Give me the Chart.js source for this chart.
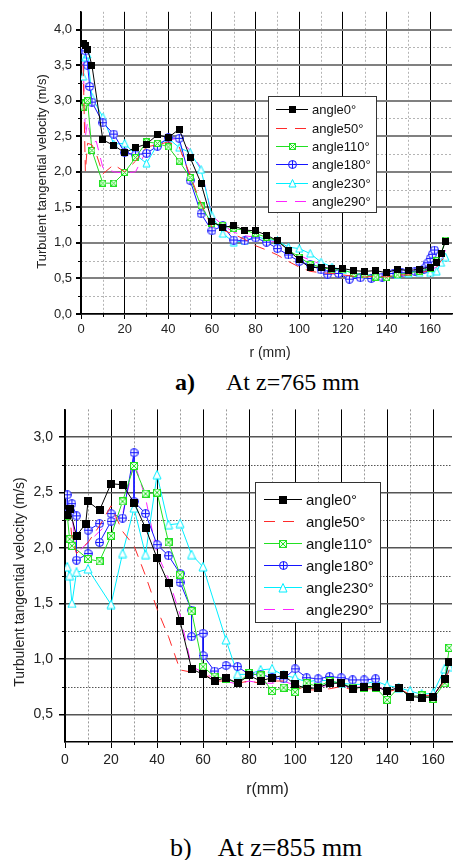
<!DOCTYPE html>
<html>
<head>
<meta charset="utf-8">
<script src="https://cdn.jsdelivr.net/npm/chart.js@4.4.1/dist/chart.umd.min.js"></script>
<style>
  body { margin: 0; width: 457px; height: 860px; background: #fff; position: relative; overflow: hidden; }
  canvas { position: absolute; left: 0; }
  .cap { position: absolute; font-family: 'Liberation Serif', 'Times New Roman', serif; color: #000; white-space: nowrap; }
</style>
</head>
<body>
<canvas id="chartA" width="457" height="365" style="top:0"></canvas>
<div class="cap" style="left:175px;top:369px;font-size:24px;line-height:26px"><b>a)</b><span style="margin-left:31px">At z=765 mm</span></div>
<canvas id="chartB" width="457" height="410" style="top:395px"></canvas>
<div class="cap" style="left:170px;top:834px;font-size:26px;line-height:28px">b)<span style="margin-left:26px">At z=855 mm</span></div>
<script>
const seriesNames = ['angle0°', 'angle50°', 'angle110°', 'angle180°', 'angle230°', 'angle290°'];

// z = 765 mm
const rA = [1, 2, 3, 5, 7, 10, 15, 20, 25, 30, 35, 40, 45, 50, 55, 60, 65, 70, 75, 80, 85, 90, 95, 100,
  105, 110, 115, 120, 125, 130, 135, 140, 145, 150, 155, 160, 163, 165, 167];
const angle0A = [3.80, 3.78, 3.72, 3.50, null, 2.45, 2.37, 2.27, 2.34, 2.39, 2.52, 2.48, 2.60, 2.20, 1.84, 1.30,
  1.22, 1.24, 1.18, 1.17, 1.11, 1.03, 0.90, 0.76, 0.65, 0.66, 0.64, 0.64, 0.61, 0.60, 0.61, 0.58, 0.63, 0.61,
  0.63, 0.66, 0.72, 0.85, 1.02];
const angle50A = [3.50, 2.00, 2.40, 2.38, 2.25, 1.97, 2.10, 2.00, 2.15, 2.35, 2.38, 2.42, 2.35, 1.95, 1.55, 1.22,
  1.18, 1.12, 1.05, 0.96, 0.90, 0.83, 0.74, 0.66, 0.60, 0.58, 0.57, 0.55, 0.53, 0.52, 0.53, 0.52, 0.55, 0.55,
  0.57, 0.62, 0.66, 0.75, 0.80];
const angle110A = [2.91, 2.97, 3.00, 2.30, null, 1.84, 1.84, 1.99, 2.20, 2.42, 2.40, 2.35, 2.15, 1.92, 1.52, 1.27,
  1.25, 1.20, 1.18, 1.13, 1.08, 1.03, 0.90, 0.80, 0.70, 0.66, 0.62, 0.62, 0.57, 0.55, 0.52, 0.51, 0.55, 0.58,
  0.60, 0.64, 0.75, 0.85, 1.04];
const rA180 = [1, 2, 3, 4, 5, 10, 15, 20, 25, 30, 35, 40, 45, 50, 55, 60, 65, 70, 75, 80, 85, 90, 95, 100, 105,
  110, 113, 118, 123, 128, 133, 138, 143, 147, 153, 157, 158, 159, 160, 161, 162];
const angle180A = [3.72, 3.70, 3.50, 3.20, 2.98, 2.69, 2.53, 2.27, 2.24, 2.26, 2.36, 2.48, 2.47, 1.88, 1.41, 1.17,
  1.24, 1.04, 1.03, 1.07, 1.01, 0.92, 0.83, 0.74, 0.69, 0.62, 0.56, 0.57, 0.49, 0.51, 0.50, 0.52, 0.57, 0.58,
  0.60, 0.63, 0.66, 0.72, 0.78, 0.84, 0.90];
const angle230A = [3.34, 3.61, 3.65, 3.05, null, 2.77, 2.39, 2.40, 2.24, 2.12, 2.38, 2.47, 2.34, 2.27, 2.03, 1.38,
  1.13, 1.01, 1.03, 1.09, 1.05, 1.03, 0.94, 0.92, 0.85, 0.73, 0.66, 0.62, 0.57, 0.55, 0.55, 0.55, 0.55, 0.57,
  0.58, 0.58, 0.60, 0.72, 0.80];
const angle290A = [3.55, 2.50, 2.70, 2.40, 2.43, 2.06, 2.00, 1.98, 2.00, 2.30, 2.40, 2.45, 2.47, 2.30, 2.05, 1.38,
  1.25, 1.15, 1.10, 1.08, 1.05, 1.00, 0.92, 0.82, 0.76, 0.70, 0.65, 0.60, 0.56, 0.55, 0.55, 0.55, 0.56, 0.58,
  0.60, 0.62, 0.66, 0.75, 0.90];

// z = 855 mm
const rB = [1, 2, 3, 5, 9, 10, 15, 20, 25, 30, 35, 40, 45, 50, 55, 60, 65, 70, 75, 80, 85, 90, 95, 100, 105,
  110, 115, 120, 125, 130, 135, 140, 145, 150, 155, 160, 165, 167];
const angle0B = [2.30, 2.35, null, 2.11, 2.22, 2.42, 2.34, 2.58, 2.57, 2.41, 2.18, 1.91, 1.68, 1.34, 0.91, 0.86,
  0.80, 0.83, 0.78, 0.85, 0.80, 0.83, 0.85, 0.77, 0.73, 0.74, 0.78, 0.78, 0.73, 0.75, 0.75, 0.71, 0.74, 0.66,
  0.65, 0.66, 0.82, 0.97];
const angle50B = [2.35, 2.30, 2.10, 1.95, null, 2.05, 2.20, 2.38, 2.15, 2.02, 1.75, 1.45, 1.20, 0.90, 0.88, 0.87,
  0.80, 0.80, 0.78, 0.80, 0.78, 0.80, 0.80, 0.75, 0.72, 0.72, 0.73, 0.75, 0.72, 0.73, 0.73, 0.70, 0.73, 0.68,
  0.67, 0.67, 0.80, 0.90];
const angle110B = [2.29, 2.08, 2.02, null, null, 1.90, 1.88, 2.11, 2.42, 2.74, 2.49, 2.50, 2.05, 1.76, 1.43, 0.93,
  0.84, 0.82, 0.78, 0.87, 0.85, 0.71, 0.74, 0.70, 0.78, 0.75, 0.80, 0.78, 0.74, 0.74, 0.74, 0.63, 0.74, 0.66,
  0.67, 0.64, 0.78, 1.10];
const rB180 = [1, 1, 3, 5, 5, 10, 10, 15, 15, 20, 20, 25, 30, 30, 35, 40, 45, 50, 50, 55, 55, 60, 60, 65, 70,
  75, 80, 85, 90, 95, 100, 105, 110, 115, 120, 125, 130, 135];
const angle180B = [2.48, 2.31, 2.40, 2.29, 1.89, 1.95, 2.16, 2.22, 2.05, 2.24, 2.31, 2.27, 2.86, 2.42, 2.31, 2.03,
  1.93, 1.77, 1.69, 1.44, 1.20, 1.23, 1.03, 0.89, 0.94, 0.93, 0.86, 0.86, 0.83, 0.82, 0.91, 0.83, 0.82, 0.84,
  0.83, 0.81, 0.81, 0.82];
const angle230B = [1.83, 1.75, 1.50, 1.78, null, 1.81, null, 1.49, 1.95, 2.36, 1.94, 2.66, 2.21, 2.22, 1.94, 1.83,
  null, 1.17, 0.86, 0.86, 0.90, 0.91, 0.85, 0.83, 0.79, 0.81, 0.80, 0.78, 0.77, 0.77, 0.80, 0.76, 0.74, 0.71,
  0.68, 0.69, 0.91, 0.93];
const angle290B = [2.40, 2.35, 2.30, 1.95, null, 2.05, 2.15, 2.25, 2.30, 2.78, 2.45, 1.95, 1.72, 1.40, 0.93, 0.88,
  0.82, 0.80, 0.77, 0.80, 0.78, 0.78, 0.80, 0.76, 0.74, 0.75, 0.76, 0.76, 0.74, 0.75, 0.75, 0.72, 0.74, 0.67,
  0.66, 0.67, 0.80, 0.95];

const xTicks = [0, 20, 40, 60, 80, 100, 120, 140, 160];
const yTicksA = [0, 0.5, 1.0, 1.5, 2.0, 2.5, 3.0, 3.5, 4.0];
const yTicksB = [0.5, 1.0, 1.5, 2.0, 2.5, 3.0];

const FONT = "'Liberation Sans', Arial, sans-serif";
const Y_TITLE = 'Turbulent tangential velocity (m/s)';

// small canvases used as point symbols (Chart.js accepts a canvas as pointStyle)
function marker(kind, color, size) {
  const c = document.createElement('canvas');
  c.width = size; c.height = size;
  const g = c.getContext('2d');
  const s = size - 1, h = size / 2;
  g.strokeStyle = color; g.lineWidth = 1;
  if (kind === 'square') {
    g.fillStyle = color;
    g.fillRect(0, 0, size, size);
  } else if (kind === 'xsquare') {
    g.fillStyle = '#eaffea';
    g.fillRect(0, 0, size, size);
    g.strokeRect(0.5, 0.5, s, s);
    g.beginPath();
    g.moveTo(1, 1); g.lineTo(s, s);
    g.moveTo(s, 1); g.lineTo(1, s);
    g.stroke();
  } else if (kind === 'oplus') {
    g.fillStyle = '#eef0ff';
    g.beginPath(); g.arc(h, h, h - 0.5, 0, Math.PI * 2); g.fill(); g.stroke();
    g.beginPath();
    g.moveTo(h, 0.5); g.lineTo(h, s + 0.5);
    g.moveTo(0.5, h); g.lineTo(s + 0.5, h);
    g.stroke();
  } else if (kind === 'triangle') {
    g.fillStyle = '#fff';
    g.beginPath(); g.moveTo(h, 0.5); g.lineTo(s, s); g.lineTo(1, s); g.closePath();
    g.fill(); g.stroke();
  }
  return c;
}

const styles = [
  { color: '#000000', kind: 'square' },
  { color: '#ff2a2a', dash: [11, 8] },
  { color: '#22e022', kind: 'xsquare' },
  { color: '#1414ff', kind: 'oplus' },
  { color: '#00eeff', kind: 'triangle' },
  { color: '#ff22ff', dash: [11, 8] }
];

function points(xs, ys) {
  return xs.map((x, i) => ({ x: x, y: ys[i] })).filter(p => p.y !== null);
}

function datasets(list, sizes) {
  return list.map(([xs, ys], i) => {
    const st = styles[i];
    const sym = st.kind ? marker(st.kind, st.color, sizes[st.kind]) : false;
    return {
      label: seriesNames[i],
      data: points(xs, ys),
      borderColor: st.color,
      backgroundColor: st.color,
      borderWidth: 1,
      borderDash: st.dash || [],
      pointStyle: sym,
      pointRadius: sym ? 4 : 0,
      tension: 0,
      spanGaps: true
    };
  });
}

// dotted lines halfway between the labelled ticks, plus short minor tick marks
const minorGrid = {
  id: 'minorGrid',
  beforeDraw(chart, args, o) {
    const { ctx, chartArea: a, scales: { x, y } } = chart;
    ctx.save();
    ctx.lineWidth = 1;
    ctx.strokeStyle = o.colorX; ctx.setLineDash(o.dashX);
    o.xs.forEach(v => {
      const px = Math.round(x.getPixelForValue(v)) + 0.5;
      ctx.beginPath(); ctx.moveTo(px, a.top); ctx.lineTo(px, a.bottom); ctx.stroke();
    });
    ctx.strokeStyle = o.colorY; ctx.setLineDash(o.dashY);
    o.ys.forEach(v => {
      const py = Math.round(y.getPixelForValue(v)) + 0.5;
      ctx.beginPath(); ctx.moveTo(a.left, py); ctx.lineTo(a.right, py); ctx.stroke();
    });
    ctx.restore();
  },
  afterDraw(chart, args, o) {
    const { ctx, chartArea: a, scales: { x, y } } = chart;
    ctx.save();
    ctx.strokeStyle = '#000'; ctx.lineWidth = 1;
    o.xs.forEach(v => {
      const px = Math.round(x.getPixelForValue(v)) + 0.5;
      ctx.beginPath(); ctx.moveTo(px, a.bottom); ctx.lineTo(px, a.bottom + 3); ctx.stroke();
    });
    o.ys.forEach(v => {
      const py = Math.round(y.getPixelForValue(v)) + 0.5;
      ctx.beginPath(); ctx.moveTo(a.left - 3, py); ctx.lineTo(a.left, py); ctx.stroke();
    });
    ctx.restore();
  }
};

// axis titles placed at fixed spots beside the plot
const axisTitles = {
  id: 'axisTitles',
  afterDraw(chart, args, o) {
    const ctx = chart.ctx;
    ctx.save();
    ctx.fillStyle = '#222';
    ctx.textAlign = 'center';
    ctx.textBaseline = 'middle';
    o.items.forEach(t => {
      ctx.save();
      ctx.translate(t.x, t.y);
      if (t.rotate) ctx.rotate(-Math.PI / 2);
      ctx.font = t.size + 'px ' + FONT;
      ctx.fillText(t.text, 0, 0);
      ctx.restore();
    });
    ctx.restore();
  }
};

// framed legend sitting inside the plot
const boxLegend = {
  id: 'boxLegend',
  afterDraw(chart, args, o) {
    const ctx = chart.ctx;
    ctx.save();
    ctx.fillStyle = '#fff';
    ctx.fillRect(o.left, o.top, o.width, o.height);
    ctx.strokeStyle = '#333'; ctx.lineWidth = 1;
    ctx.strokeRect(o.left + 0.5, o.top + 0.5, o.width, o.height);
    ctx.font = o.font;
    ctx.textBaseline = 'middle';
    chart.data.datasets.forEach((ds, i) => {
      const y = Math.round(o.firstRow + i * o.rowGap) + 0.5;
      ctx.strokeStyle = ds.borderColor;
      ctx.setLineDash(ds.borderDash);
      ctx.beginPath(); ctx.moveTo(o.x0, y); ctx.lineTo(o.x1, y); ctx.stroke();
      ctx.setLineDash([]);
      const sym = ds.pointStyle;
      if (sym) {
        ctx.drawImage(sym, Math.round((o.x0 + o.x1) / 2 - sym.width / 2), Math.round(y - sym.height / 2));
      }
      ctx.fillStyle = '#111';
      ctx.fillText(ds.label, o.textX, y + 1);
    });
    ctx.restore();
  }
};

const comma = v => v.toFixed(1).replace('.', ',');

function makeChart(id, d) {
  return new Chart(document.getElementById(id), {
    type: 'line',
    data: { datasets: d.sets },
    plugins: [minorGrid, axisTitles, boxLegend],
    options: {
      responsive: false,
      animation: false,
      devicePixelRatio: 1,
      layout: { padding: { top: d.top, right: 0, bottom: 0, left: 0 } },
      plugins: {
        legend: { display: false },
        tooltip: { enabled: false },
        minorGrid: d.minor,
        axisTitles: { items: d.titles },
        boxLegend: d.legend
      },
      scales: {
        x: {
          type: 'linear', min: 0, max: d.xMax,
          afterBuildTicks: s => { s.ticks = xTicks.map(v => ({ value: v })); },
          afterFit: s => { s.height = d.xHeight; },
          ticks: { font: { family: FONT, size: d.tickSize }, color: '#222', padding: d.xPad, maxRotation: 0, autoSkip: false },
          grid: { color: '#000', lineWidth: 1, tickLength: d.tickLen, tickColor: '#000' },
          border: { color: '#000', width: 1.5 }
        },
        y: {
          type: 'linear', min: d.yMin, max: d.yMax,
          afterBuildTicks: s => { s.ticks = d.yTicks.map(v => ({ value: v })); },
          afterFit: s => { s.width = d.yWidth; },
          ticks: { font: { family: FONT, size: d.tickSize }, color: '#222', padding: d.yPad, callback: comma },
          grid: { color: d.yGrid, lineWidth: d.yGridWidth, tickLength: d.tickLen, tickColor: '#000' },
          border: { color: '#000', width: 1.5 }
        }
      }
    }
  });
}

makeChart('chartA', {
  sets: datasets([[rA, angle0A], [rA, angle50A], [rA, angle110A], [rA180, angle180A], [rA, angle230A], [rA, angle290A]],
    { square: 7, xsquare: 7, oplus: 9, triangle: 9 }),
  top: 10, xMax: 170, yMin: 0, yMax: 4.25, yTicks: yTicksA,
  xHeight: 51, yWidth: 81, tickSize: 13, tickLen: 5, xPad: 3, yPad: 4,
  yGrid: '#808080', yGridWidth: 2,
  titles: [
    { text: 'r (mm)', x: 270, y: 353, size: 14 },
    { text: Y_TITLE, x: 42, y: 171.5, size: 13, rotate: true }
  ],
  minor: {
    xs: [10, 30, 50, 70, 90, 110, 130, 150],
    ys: [0.25, 0.75, 1.25, 1.75, 2.25, 2.75, 3.25, 3.75],
    colorX: '#b4b4b4', dashX: [2, 2], colorY: '#b4b4b4', dashY: [2, 2]
  },
  legend: { left: 268, top: 96, width: 108, height: 116, firstRow: 109.3, rowGap: 18.3, x0: 276, x1: 308, textX: 312, font: '13px ' + FONT }
});

makeChart('chartB', {
  sets: datasets([[rB, angle0B], [rB, angle50B], [rB, angle110B], [rB180, angle180B], [rB, angle230B], [rB, angle290B]],
    { square: 8, xsquare: 8, oplus: 9, triangle: 10 }),
  top: 11, xMax: 168.2, yMin: 0.25, yMax: 3.25, yTicks: yTicksB,
  xHeight: 63, yWidth: 65, tickSize: 14, tickLen: 6, xPad: 4, yPad: 6,
  yGrid: '#555', yGridWidth: 1.5,
  titles: [
    { text: 'r(mm)', x: 267.5, y: 395, size: 16 },
    { text: Y_TITLE, x: 20, y: 187, size: 14, rotate: true }
  ],
  minor: {
    xs: [10, 30, 50, 70, 90, 110, 130, 150],
    ys: [0.75, 1.25, 1.75, 2.25, 2.75],
    colorX: '#999', dashX: [2, 2], colorY: '#555', dashY: [1.5, 1.5]
  },
  legend: { left: 255, top: 87, width: 125, height: 140, firstRow: 104.3, rowGap: 22, x0: 264, x1: 302, textX: 306, font: '15px ' + FONT }
});
</script>
</body>
</html>
